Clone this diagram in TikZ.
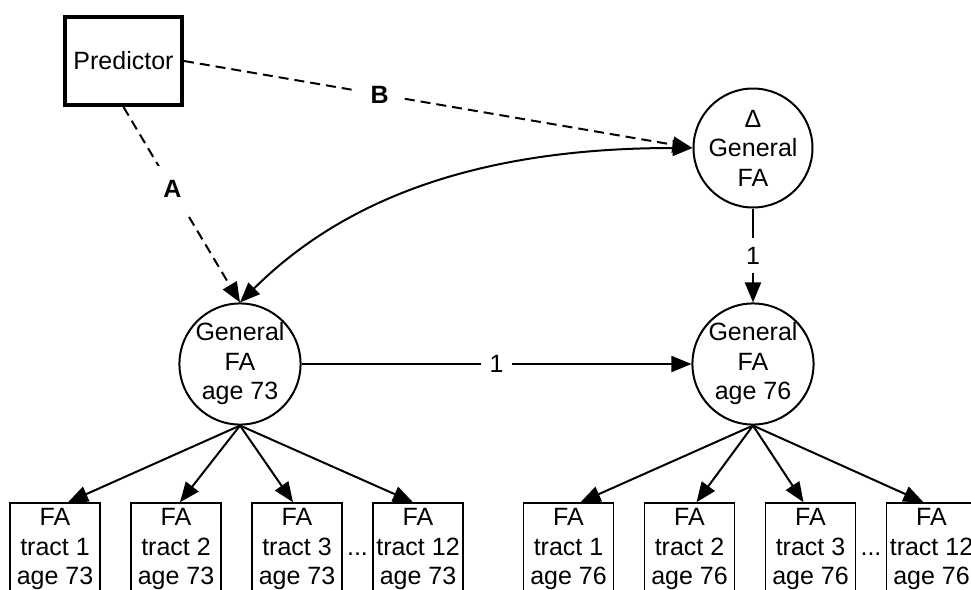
\documentclass[tikz,border=0pt]{standalone}
\usepackage{fontspec}
\setmainfont{Liberation Sans}
\usepackage{tikz}
\usetikzlibrary{arrows.meta,positioning}
\newcommand{\lblfont}{\fontsize{12.5}{14.75}\selectfont}

\begin{document}
\begin{tikzpicture}[
  x=0.5pt, y=-0.5pt,
  pred/.style={draw, line width=2pt, minimum width=58.5pt, minimum height=44pt, inner sep=0pt, font=\lblfont},
  latent/.style={draw, circle, line width=1pt, minimum size=59.5pt, inner sep=0pt, align=center, font=\lblfont},
  box/.style={draw, line width=0.75pt, minimum width=45pt, minimum height=46pt, inner sep=0pt, align=center, font=\lblfont},
  arrow/.style={-{Triangle[length=10pt,width=8pt]}, line width=1pt},
  biarrow/.style={{Triangle[length=10pt,width=8pt]}-{Triangle[length=10pt,width=8pt]}, line width=1pt},
  dasharrow/.style={arrow, dash pattern=on 5pt off 3pt},
  coef/.style={fill=white, inner sep=4.5pt, font=\lblfont},
  path/.style={fill=white, inner sep=7pt, font=\lblfont\bfseries}
]
\useasboundingbox (0,0) rectangle (971,590);

\node[pred] (predictor) at (123.5,61) {Predictor};
\node[latent] (dgen) at (753,148) {Δ\\General\\FA};
\node[latent] (gen73) at (240,364) {General\\FA\\age 73};
\node[latent] (gen76) at (753,364) {General\\FA\\age 76};

% indicators, age 73
\node[box] (t1a) at (55,549) {FA\\tract 1\\age 73};
\node[box] (t2a) at (176,549) {FA\\tract 2\\age 73};
\node[box] (t3a) at (297,549) {FA\\tract 3\\age 73};
\node[box] (t12a) at (418,549) {FA\\tract 12\\age 73};
\node[font=\lblfont, inner sep=0pt] (dotsa) at (357.5,554) {...};

% indicators, age 76
\node[box] (t1b) at (568.5,549) {FA\\tract 1\\age 76};
\node[box] (t2b) at (689.5,549) {FA\\tract 2\\age 76};
\node[box] (t3b) at (810.5,549) {FA\\tract 3\\age 76};
\node[box] (t12b) at (931.5,549) {FA\\tract 12\\age 76};
\node[font=\lblfont, inner sep=0pt] (dotsb) at (871,554) {...};

\draw[dasharrow] (predictor.south) -- node[path, pos=0.42] {A} (gen73.north);
\draw[dasharrow] (predictor.east) -- node[path, pos=0.385] {B} (dgen.west);
\draw[biarrow] (gen73.north) .. controls (345,198) and (480,148) .. (dgen.west);
\draw[arrow] (dgen) -- node[coef] {1} (gen76);
\draw[arrow] (gen73) -- node[coef] {1} (gen76);

\draw[arrow] (gen73.south) -- ([xshift=6.5pt]t1a.north);
\draw[arrow] (gen73.south) -- ([xshift=2pt]t2a.north);
\draw[arrow] (gen73.south) -- ([xshift=-2pt]t3a.north);
\draw[arrow] (gen73.south) -- ([xshift=-2.5pt]t12a.north);
\draw[arrow] (gen76.south) -- ([xshift=6pt]t1b.north);
\draw[arrow] (gen76.south) -- ([xshift=3.5pt]t2b.north);
\draw[arrow] (gen76.south) -- ([xshift=-3.5pt]t3b.north);
\draw[arrow] (gen76.south) -- ([xshift=-4pt]t12b.north);
\end{tikzpicture}
\end{document}
